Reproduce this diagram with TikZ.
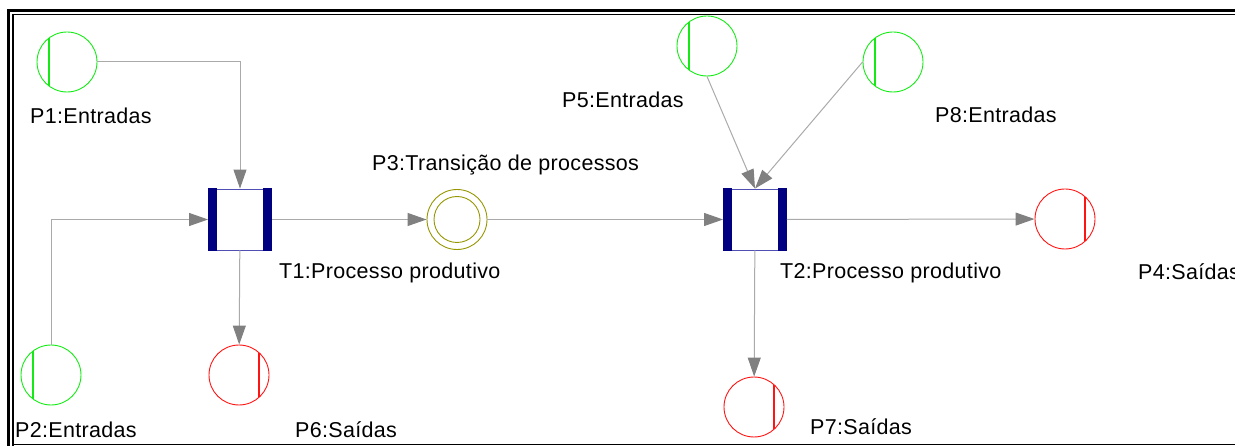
\documentclass[tikz,border=0pt]{standalone}
\usepackage{fontspec}
\setmainfont{Liberation Sans}[LetterSpace=1.5]
\usepackage{xcolor}
\usetikzlibrary{
    calc,
    arrows.meta
}
\definecolor{placegreen}{RGB}{20,235,20}
\definecolor{placered}{RGB}{255,20,20}
\definecolor{placeolive}{RGB}{150,150,0}
\definecolor{transnavy}{RGB}{0,0,128}
\definecolor{transedge}{RGB}{80,80,180}
\definecolor{arcgray}{RGB}{170,170,170}
\definecolor{tipgray}{RGB}{128,128,128}
\tikzset{
    % input place: circle with a bar on the left
    inplace/.style={
        circle, draw=placegreen, line width=0.9pt, minimum size=60pt, inner sep=0pt,
        path picture={
            \draw[placegreen, line width=1.2pt]
            ([xshift=-18pt]path picture bounding box.north) --
            ([xshift=-18pt]path picture bounding box.south);
        }
    },
    % output place: circle with a bar on the right
    outplace/.style={
        circle, draw=placered, line width=0.9pt, minimum size=60pt, inner sep=0pt,
        path picture={
            \draw[placered, line width=1.2pt]
            ([xshift=20pt]path picture bounding box.north) --
            ([xshift=20pt]path picture bounding box.south);
        }
    },
    % intermediate place: double circle
    midplace/.style={
        circle, draw=placeolive, line width=0.9pt, minimum size=60pt, inner sep=0pt,
        path picture={
            \draw[placeolive, line width=0.9pt]
            (path picture bounding box.center) circle (23pt);
        }
    },
    % transition box
    trans/.style={
        rectangle, draw=transedge, line width=0.9pt,
        minimum width=63pt, minimum height=61pt, inner sep=0pt
    },
    % arc between place and transition
    arcline/.style={
        draw=arcgray, line width=1pt,
        -{Triangle[length=19pt, width=13pt, color=tipgray]}
    },
    lbl/.style={
        anchor=base west, inner sep=0pt,
        font=\fontsize{21.5}{26}\selectfont
    }
}

\begin{document}
\begin{tikzpicture}[x=1pt, y=-1pt]
            \useasboundingbox (0,0) rectangle (1235,446);
            % frame
            \draw[line width=3pt] (8.5,446) -- (8.5,10.5) -- (1240,10.5);
            \draw[line width=1.5pt] (13,446) -- (13,14.5) -- (1240,14.5);
            \draw[line width=1pt] (13,444.5) -- (1240,444.5);
            % places
            \node[inplace] (p1) at (67,62) {};
            \node[inplace] (p2) at (51,375) {};
            \node[inplace] (p5) at (707,46) {};
            \node[inplace] (p8) at (893,62) {};
            \node[midplace] (p3) at (457,219.5) {};
            \node[outplace] (p6) at (239,375) {};
            \node[outplace] (p4) at (1065,219) {};
            \node[outplace] (p7) at (754,407) {};
            % transitions
            \node[trans] (t1) at (240,219.5) {};
            \node[trans] (t2) at (755,219.5) {};
            \foreach \t in {t1, t2} {
                \fill[transnavy] ([yshift=1pt]\t.north west) rectangle ([xshift=9pt, yshift=-1pt]\t.south west);
                \fill[transnavy] ([yshift=1pt]\t.north east) rectangle ([xshift=-9pt, yshift=-1pt]\t.south east);
            }
            \begin{scope}[arcline]
                \draw (p1) -| (t1);
                \draw (p2) |- (t1);
                \draw (t1) -- (p6);
                \draw (t1) -- (p3);
                \draw (p3) -- (t2);
                \draw (p5.south) -- (t2.north);
                \draw (p8.west) -- (t2.north);
                \draw (t2) -- (p4);
                \draw (t2) -- (p7);
            \end{scope}
            % labels
            \node[lbl] (lp1) at (30,124) {P1:Entradas};
            \node[lbl] (lp2) at (15,437) {P2:Entradas};
            \node[lbl] (lp3) at (372,171) {P3:Transição de processos};
            \node[lbl] (lp4) at (1138,280) {P4:Saídas};
            \node[lbl] (lp5) at (562,108) {P5:Entradas};
            \node[lbl] (lp6) at (295,437) {P6:Saídas};
            \node[lbl] (lp7) at (810,435) {P7:Saídas};
            \node[lbl] (lp8) at (935,123) {P8:Entradas};
            \node[lbl] (lt1) at (279,279) {T1:Processo produtivo};
            \node[lbl] (lt2) at (780,279) {T2:Processo produtivo};
        \end{tikzpicture}
\end{document}
